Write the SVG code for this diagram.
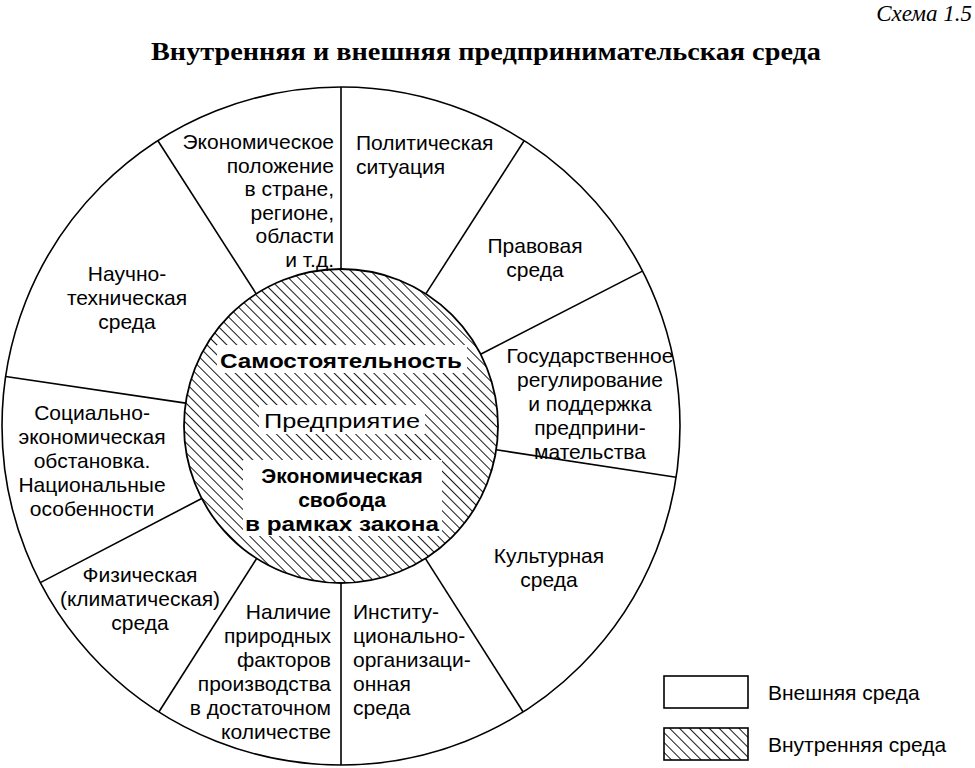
<svg xmlns="http://www.w3.org/2000/svg" width="975" height="768" viewBox="0 0 975 768">
<style>
.l{font-family:"Liberation Sans",Arial,sans-serif;font-size:21px;fill:#000}
.c{text-anchor:middle}.r{text-anchor:end}
.b{font-weight:bold}
.s{stroke:#000;stroke-width:1.6;fill:none}
</style>
<defs>
<pattern id="h" patternUnits="userSpaceOnUse" width="7" height="7" patternTransform="rotate(-45)">
<rect width="7" height="7" fill="#fff"/><line x1="0" y1="0" x2="0" y2="7" stroke="#000" stroke-width="1.8"/>
</pattern>
</defs>
<rect width="975" height="768" fill="#fff"/>
<text x="972" y="21" text-anchor="end" font-family="Liberation Serif,serif" font-style="italic" font-size="23">Схема 1.5</text>
<text x="486" y="60" text-anchor="middle" font-family="Liberation Serif,serif" font-weight="bold" font-size="25" textLength="670" lengthAdjust="spacingAndGlyphs">Внутренняя и внешняя предпринимательская среда</text>
<g id="outer"><circle cx="341" cy="426" r="339" class="s" fill="#fff"/></g>
<g id="connectors" stroke="#000" stroke-width="1.6">
<line x1="341" y1="269" x2="341" y2="87"/>
<line x1="256.2" y1="293.9" x2="157.9" y2="140.8"/>
<line x1="425.8" y1="293.9" x2="524.1" y2="140.8"/>
<line x1="480.6" y1="354.2" x2="642.4" y2="271.1"/>
<line x1="496.2" y1="449.8" x2="676.1" y2="477.3"/>
<line x1="425.3" y1="558.4" x2="523" y2="711.8"/>
<line x1="341" y1="583" x2="341" y2="765"/>
<line x1="256.7" y1="558.4" x2="159" y2="711.8"/>
<line x1="201.7" y1="498.5" x2="40.3" y2="582.6"/>
<line x1="185.7" y1="403.1" x2="5.7" y2="376.5"/>
</g>
<g id="inner">
<circle cx="341" cy="426" r="157" fill="url(#h)" stroke="#000" stroke-width="1.8"/>
<rect x="217" y="345" width="250" height="28" fill="#fff"/>
<rect x="259" y="405" width="166" height="29" fill="#fff"/>
<rect x="243" y="460" width="199" height="76" fill="#fff"/>
<text class="l c b" x="341" y="368" font-size="24" textLength="242" lengthAdjust="spacingAndGlyphs">Самостоятельность</text>
<text class="l c" x="342" y="428" font-size="25" textLength="156" lengthAdjust="spacingAndGlyphs">Предприятие</text>
<text class="l c b" x="342" y="483" font-size="23">Экономическая</text>
<text class="l c b" x="342" y="507" font-size="23">свобода</text>
<text class="l c b" x="342" y="531" font-size="23" textLength="194" lengthAdjust="spacingAndGlyphs">в рамках закона</text>
</g>
<g id="n1"><text class="l r" x="334" y="149">Экономическое<tspan x="334" dy="23.6">положение</tspan><tspan x="334" dy="23.6">в стране,</tspan><tspan x="334" dy="23.6">регионе,</tspan><tspan x="334" dy="23.6">области</tspan><tspan x="334" dy="23.6">и т.д.</tspan></text></g>
<g id="n2"><text class="l" x="356" y="150">Политическая<tspan x="356" dy="24">ситуация</tspan></text></g>
<g id="n3"><text class="l c" x="535" y="253">Правовая<tspan x="535" dy="24">среда</tspan></text></g>
<g id="n4"><text class="l c" x="590" y="363">Государственное<tspan x="590" dy="24">регулирование</tspan><tspan x="590" dy="24">и поддержка</tspan><tspan x="590" dy="24">предприни-</tspan><tspan x="590" dy="24">мательства</tspan></text></g>
<g id="n5"><text class="l c" x="549" y="563">Культурная<tspan x="549" dy="24">среда</tspan></text></g>
<g id="n6"><text class="l" x="353" y="619">Институ-<tspan x="353" dy="24">ционально-</tspan><tspan x="353" dy="24">организаци-</tspan><tspan x="353" dy="24">онная</tspan><tspan x="353" dy="24">среда</tspan></text></g>
<g id="n7"><text class="l r" x="331" y="619">Наличие<tspan x="331" dy="24">природных</tspan><tspan x="331" dy="24">факторов</tspan><tspan x="331" dy="24">производства</tspan><tspan x="331" dy="24">в достаточном</tspan><tspan x="331" dy="24">количестве</tspan></text></g>
<g id="n8"><text class="l c" x="140" y="582">Физическая<tspan x="140" dy="24">(климатическая)</tspan><tspan x="140" dy="24">среда</tspan></text></g>
<g id="n9"><text class="l c" x="92" y="420">Социально-<tspan x="92" dy="24">экономическая</tspan><tspan x="92" dy="24">обстановка.</tspan><tspan x="92" dy="24">Национальные</tspan><tspan x="92" dy="24">особенности</tspan></text></g>
<g id="n10"><text class="l c" x="127" y="281">Научно-<tspan x="127" dy="24">техническая</tspan><tspan x="127" dy="24">среда</tspan></text></g>
<g id="legend">
<rect x="664" y="676" width="84" height="32" fill="#fff" stroke="#000" stroke-width="1.6"/>
<rect x="664" y="728" width="84" height="32" fill="url(#h)" stroke="#000" stroke-width="1.6"/>
<text class="l" x="768" y="700" font-size="22">Внешняя среда</text>
<text class="l" x="768" y="752" font-size="22">Внутренняя среда</text>
</g>
</svg>
